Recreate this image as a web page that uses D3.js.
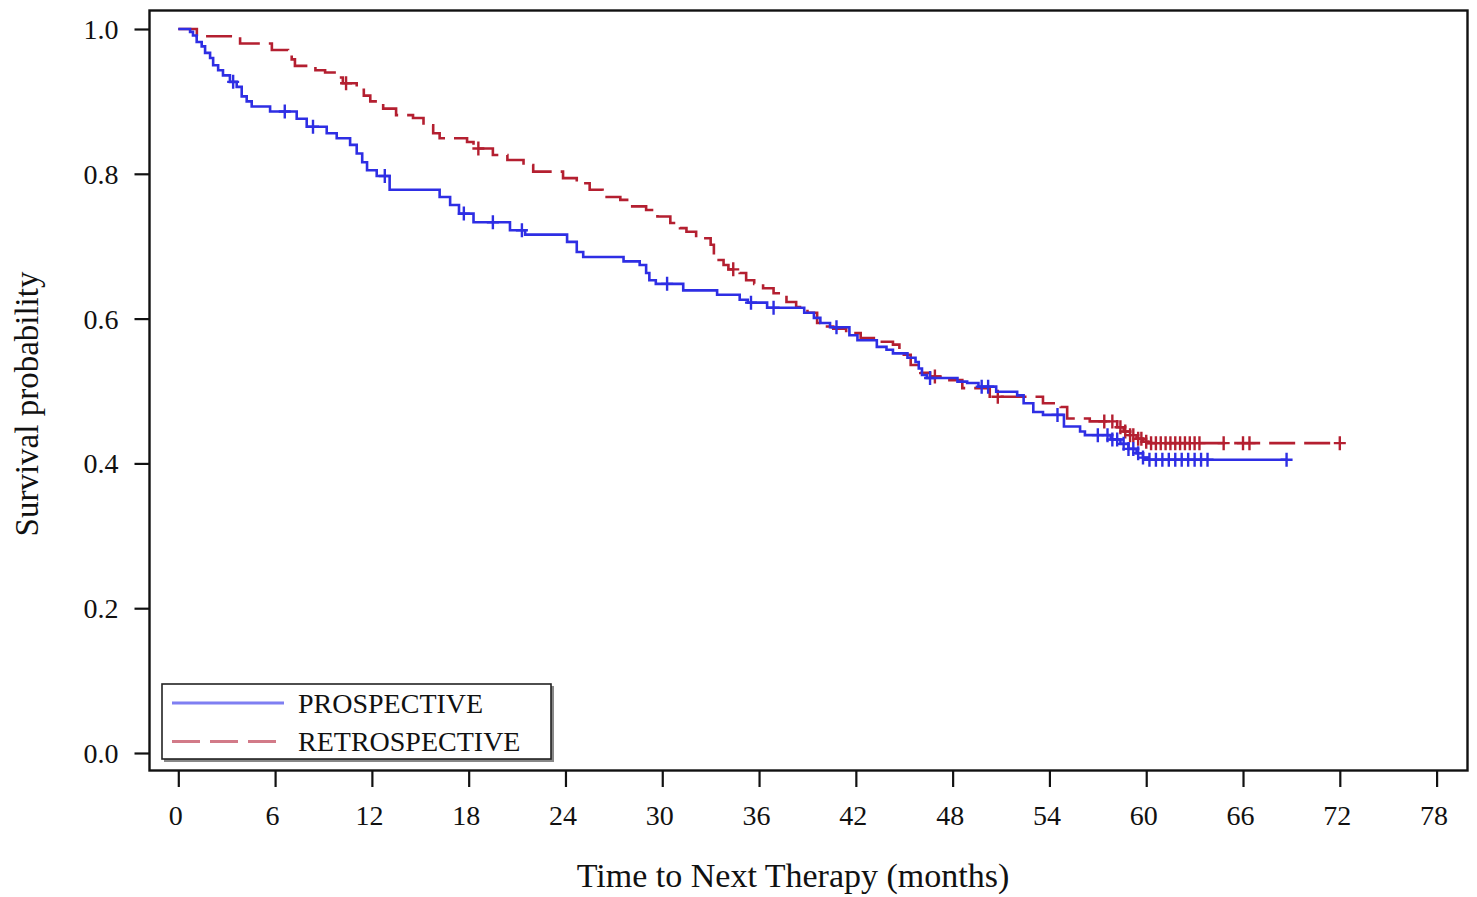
<!DOCTYPE html>
<html>
<head>
<meta charset="utf-8">
<script src="https://cdn.jsdelivr.net/npm/d3@7"></script>
<style>
  body { margin: 0; background: #fff; }
  svg { display: block; font-family: "Liberation Serif", "Times New Roman", serif; }
</style>
</head>
<body>
<script>
// Kaplan-Meier steps: [time in months, survival]

var groups = ['PROSPECTIVE', 'RETROSPECTIVE']

var prospectiveSteps = [
  [0, 1.000], [0.73, 0.996], [0.91, 0.991], [1.14, 0.982], [1.45, 0.976],
  [1.66, 0.967], [1.97, 0.960], [2.16, 0.950], [2.47, 0.943], [2.77, 0.936],
  [3.20, 0.927], [3.62, 0.920], [3.93, 0.907], [4.24, 0.900], [4.55, 0.893],
  [5.69, 0.886], [7.34, 0.876], [7.96, 0.865], [9.20, 0.856], [9.82, 0.849],
  [10.65, 0.840], [11.06, 0.828], [11.40, 0.816], [11.70, 0.805], [12.30, 0.797],
  [13.10, 0.778], [16.20, 0.768], [16.85, 0.757], [17.40, 0.745], [18.30, 0.733],
  [20.56, 0.722], [21.50, 0.716], [24.10, 0.706], [24.70, 0.692], [25.10, 0.685],
  [27.60, 0.679], [28.60, 0.674], [29.00, 0.663], [29.20, 0.653], [29.60, 0.648],
  [31.30, 0.639], [33.40, 0.633], [34.80, 0.626], [35.30, 0.622], [36.50, 0.615],
  [38.80, 0.608], [39.40, 0.601], [39.80, 0.594], [40.40, 0.588], [41.60, 0.577],
  [42.10, 0.570], [43.30, 0.561], [43.90, 0.557], [44.30, 0.552], [45.20, 0.546],
  [45.70, 0.540], [45.90, 0.531], [46.10, 0.522], [46.40, 0.518], [48.30, 0.513],
  [48.90, 0.511], [49.60, 0.506], [50.70, 0.499], [52.00, 0.494], [52.40, 0.483],
  [53.00, 0.471], [53.60, 0.467], [54.90, 0.451], [55.90, 0.444], [56.20, 0.439],
  [57.80, 0.433], [58.40, 0.427], [58.90, 0.420], [59.40, 0.414], [59.80, 0.408],
  [60.10, 0.405], [68.70, 0.405]
]

var prospectiveCensored = [
  3.4, 6.6, 8.35, 12.8, 17.7, 19.5, 21.3, 30.3, 35.5, 36.9, 40.8, 46.6, 49.8, 50.2,
  54.5, 57.0, 57.6, 57.9, 58.2, 58.6, 58.9, 59.2, 59.5, 59.8, 60.2, 60.6, 61.0,
  61.4, 61.8, 62.2, 62.6, 63.0, 63.4, 63.8, 68.7
]

var retrospectiveSteps = [
  [0, 1.000], [1.15, 0.990], [3.83, 0.980], [5.80, 0.971], [6.80, 0.964],
  [7.03, 0.958], [7.23, 0.949], [8.50, 0.943], [9.10, 0.940], [9.80, 0.933],
  [10.20, 0.925], [11.06, 0.916], [11.50, 0.908], [11.90, 0.900], [12.70, 0.890],
  [13.50, 0.881], [14.55, 0.877], [15.20, 0.867], [15.80, 0.856], [16.20, 0.849],
  [17.90, 0.844], [18.30, 0.835], [19.50, 0.826], [20.40, 0.819], [21.40, 0.812],
  [22.00, 0.803], [23.85, 0.794], [24.70, 0.787], [25.50, 0.778], [26.30, 0.768],
  [27.40, 0.764], [28.00, 0.755], [29.00, 0.750], [29.70, 0.741], [30.50, 0.732],
  [31.10, 0.725], [31.50, 0.720], [32.10, 0.711], [33.00, 0.702], [33.20, 0.686],
  [33.40, 0.681], [33.80, 0.674], [34.10, 0.668], [34.80, 0.663], [35.20, 0.653],
  [35.70, 0.648], [36.25, 0.642], [36.90, 0.635], [37.70, 0.623], [38.30, 0.616],
  [39.00, 0.608], [39.60, 0.594], [39.80, 0.589], [40.60, 0.586], [41.40, 0.580],
  [42.30, 0.573], [43.50, 0.568], [44.30, 0.564], [44.70, 0.550], [45.40, 0.536],
  [46.00, 0.525], [46.60, 0.520], [47.80, 0.515], [48.60, 0.504], [50.30, 0.492],
  [53.60, 0.483], [54.70, 0.478], [55.10, 0.462], [56.50, 0.458], [58.20, 0.450],
  [58.60, 0.444], [59.00, 0.439], [59.40, 0.434], [59.80, 0.430], [60.10, 0.428],
  [72.00, 0.428]
]

var retrospectiveCensored = [
  10.4, 18.6, 34.4, 46.9, 50.8, 57.4, 57.9, 58.4, 58.7, 59.0, 59.2, 59.5, 59.7,
  60.0, 60.3, 60.6, 60.9, 61.2, 61.5, 61.8, 62.1, 62.4, 62.7, 63.0, 63.3, 64.8,
  66.0, 66.4, 72.0
]

var xTicks = d3.range(0, 79, 6)
var yTicks = [0, 0.2, 0.4, 0.6, 0.8, 1.0]

// page setup

var width = 1477
var height = 897

var svg = d3.select('body').append('svg')
  .attr('width', width)
  .attr('height', height)

var x = d3.scaleLinear().domain([0, 78]).range([178.3, 1436.6])
var y = d3.scaleLinear().domain([0, 1]).range([753, 29])

var series = [
  { name: groups[0], steps: prospectiveSteps, censored: prospectiveCensored,
    color: '#2e2ee4', legendColor: '#7f7ff2', dash: null },
  { name: groups[1], steps: retrospectiveSteps, censored: retrospectiveCensored,
    color: '#b41f30', legendColor: '#d27a88', dash: '26,9' }
]

// survival at time t from a step list
function survivalAt(steps, t) {
  var i = d3.bisector(function(d) { return d[0] }).right(steps, t) - 1
  return steps[Math.max(0, i)][1]
}

// curves

var line = d3.line()
  .x(function(d) { return x(d[0]) })
  .y(function(d) { return y(d[1]) })
  .curve(d3.curveStepAfter)

var curves = svg.append('g').attr('class', 'curves')

// retrospective first, prospective drawn over it
series.slice().reverse().forEach(function(s) {
  var g = curves.append('g')

  g.append('path')
    .datum(s.steps)
    .attr('d', line)
    .attr('fill', 'none')
    .attr('stroke', s.color)
    .attr('stroke-width', 2.6)
    .attr('stroke-dasharray', s.dash)

  g.selectAll('.censor')
    .data(s.censored)
    .enter()
    .append('path')
    .attr('class', 'censor')
    .attr('transform', function(t) {
      return `translate(${x(t)}, ${y(survivalAt(s.steps, t))})`
    })
    .attr('d', 'M-6,0H6M0,-7V7')
    .attr('stroke', s.color)
    .attr('stroke-width', 2.4)
    .attr('fill', 'none')
})

// frame

svg.append('rect')
  .attr('x', 149.5)
  .attr('y', 10.5)
  .attr('width', 1318)
  .attr('height', 760)
  .attr('fill', 'none')
  .attr('stroke', '#111')
  .attr('stroke-width', 2.4)

// axes

var xAxis = svg.append('g')
  .attr('transform', 'translate(0, 771)')
  .call(d3.axisBottom(x).tickValues(xTicks).tickSize(16).tickPadding(18).tickSizeOuter(0))

var yAxis = svg.append('g')
  .attr('transform', 'translate(149.5, 0)')
  .call(d3.axisLeft(y).tickValues(yTicks).tickFormat(d3.format('.1f'))
    .tickSize(15).tickPadding(16).tickSizeOuter(0))

;[xAxis, yAxis].forEach(function(a) {
  a.select('.domain').remove()
  a.selectAll('.tick line').attr('stroke', '#111').attr('stroke-width', 2.2)
  a.selectAll('.tick text')
    .attr('fill', '#111')
    .style('font-family', '"Liberation Serif", serif')
    .style('font-size', '28px')
})

xAxis.selectAll('.tick text').attr('x', -3)
yAxis.selectAll('.tick text').attr('dy', '0.34em')

svg.append('text')
  .attr('x', 793)
  .attr('y', 887)
  .attr('text-anchor', 'middle')
  .style('font-size', '34px')
  .attr('fill', '#111')
  .text('Time to Next Therapy (months)')

svg.append('text')
  .attr('transform', 'translate(38, 404) rotate(-90)')
  .attr('text-anchor', 'middle')
  .style('font-size', '33px')
  .attr('fill', '#111')
  .text('Survival probability')

// legend

var legend = svg.append('g').attr('class', 'legend')

legend.append('rect')
  .attr('x', 164)
  .attr('y', 686)
  .attr('width', 390)
  .attr('height', 76)
  .attr('fill', '#888')

legend.append('rect')
  .attr('x', 162)
  .attr('y', 684)
  .attr('width', 389)
  .attr('height', 75)
  .attr('fill', '#fff')
  .attr('stroke', '#222')
  .attr('stroke-width', 1.6)

var item = legend.selectAll('.item')
  .data(series)
  .enter()
  .append('g')
  .attr('class', 'item')
  .attr('transform', function(d, i) { return `translate(0, ${703 + i * 38.5})` })

item.append('line')
  .attr('x1', 172)
  .attr('x2', 284)
  .attr('stroke', function(d) { return d.legendColor })
  .attr('stroke-width', 3)
  .attr('stroke-dasharray', function(d) { return d.dash ? '28,10' : null })

item.append('text')
  .attr('x', 298)
  .attr('dy', '0.34em')
  .style('font-size', '28px')
  .attr('fill', '#111')
  .text(function(d) { return d.name })
</script>
</body>
</html>
